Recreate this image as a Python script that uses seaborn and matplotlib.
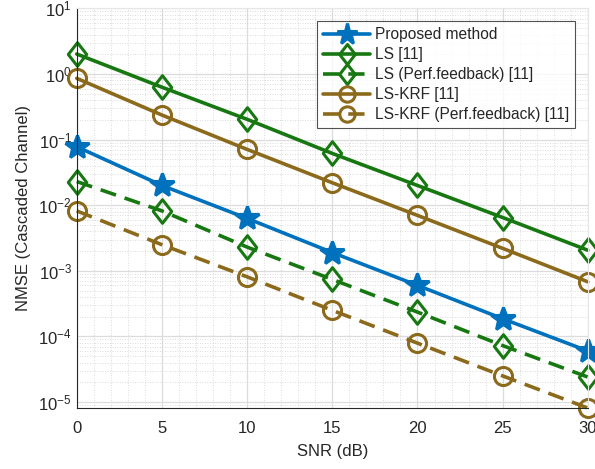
import numpy as np
import pandas as pd
import matplotlib
matplotlib.use("Agg")
import matplotlib.pyplot as plt
import seaborn as sns
from matplotlib.path import Path
from matplotlib.ticker import LogLocator, MultipleLocator, NullFormatter

# -------------------------------
# Data
# -------------------------------
snr = [0, 5, 10, 15, 20, 25, 30]
proposed = [0.078, 0.020, 0.0063, 0.0019, 0.0006, 0.000186, 0.00006]
ls = [2.02, 0.63, 0.204, 0.0616, 0.020, 0.0065, 0.00206]
ls_perf = [0.023, 0.0082, 0.0023, 0.00074, 0.000235, 0.0000725, 0.000024]
ls_krf = [0.86, 0.237, 0.071, 0.022, 0.0070, 0.0022, 0.00068]
ls_krf_perf = [0.0082, 0.0025, 0.00081, 0.00025, 0.000079, 0.000025, 0.0000081]

labels = ["Proposed method", "LS [11]", "LS (Perf.feedback) [11]",
          "LS-KRF [11]", "LS-KRF (Perf.feedback) [11]"]

blue = "#0072BD"
green = "#177812"
brown = "#8C6A1C"

# MATLAB-like diamond (a bit taller than wide)
diamond = Path([(0, 1), (0.78, 0), (0, -1), (-0.78, 0), (0, 1)],
               [Path.MOVETO, Path.LINETO, Path.LINETO, Path.LINETO, Path.CLOSEPOLY])

dash = (0, (4.5, 2.5))
styles = [
    dict(color=blue, marker="*", ms=18, ls="-", mfc=blue),
    dict(color=green, marker=diamond, ms=17, ls="-", mfc="none"),
    dict(color=green, marker=diamond, ms=17, ls=dash, mfc="none"),
    dict(color=brown, marker="o", ms=13, ls="-", mfc="none"),
    dict(color=brown, marker="o", ms=13, ls=dash, mfc="none"),
]

# -------------------------------
# Figure
# -------------------------------
sns.set_style("white")
plt.rcParams["font.family"] = ["Liberation Sans", "DejaVu Sans"]

fig = plt.figure(figsize=(5.95, 4.69), dpi=100)
ax = fig.add_axes([0.129, 0.130, 0.859, 0.852])

for lab, vals, st in zip(labels, [proposed, ls, ls_perf, ls_krf, ls_krf_perf], styles):
    df = pd.DataFrame({"snr": snr, "nmse": vals})
    sns.lineplot(data=df, x="snr", y="nmse", ax=ax, label=lab,
                 color=st["color"], linestyle=st["ls"], linewidth=2.6,
                 marker=st["marker"], markersize=st["ms"],
                 markerfacecolor=st["mfc"], markeredgecolor=st["color"],
                 markeredgewidth=2.2, clip_on=False)

ax.set_yscale("log")
ax.set_xlim(0, 30)
ax.set_ylim(8.1e-6, 10)

ax.xaxis.set_major_locator(MultipleLocator(5))
ax.xaxis.set_minor_locator(MultipleLocator(1))
ax.yaxis.set_major_locator(LogLocator(base=10, numticks=20))
ax.yaxis.set_minor_locator(LogLocator(base=10, subs=np.arange(2, 10), numticks=20))
ax.yaxis.set_minor_formatter(NullFormatter())

ax.grid(True, which="major", color="#dcdcdc", linewidth=0.9, linestyle="-")
ax.grid(True, which="minor", color="#d0d0d0", linewidth=0.6, linestyle=(0, (1, 2)))
ax.set_axisbelow(True)

ax.tick_params(which="both", direction="in", top=False, right=False,
               labelsize=12, colors="#262626")
ax.tick_params(which="major", length=5)
ax.tick_params(which="minor", length=2.5)
ax.tick_params(axis="x", which="major", pad=9)
for s in ["top", "right"]:
    ax.spines[s].set_color("#e6e6e6")
for s in ["left", "bottom"]:
    ax.spines[s].set_color("#262626")
    ax.spines[s].set_linewidth(0.8)

ax.set_xlabel("SNR (dB)", fontsize=12, color="#262626", labelpad=6)
ax.set_ylabel("NMSE (Cascaded Channel)", fontsize=12, color="#262626", labelpad=5)

leg = ax.legend(loc="upper right", bbox_to_anchor=(0.975, 0.969), fontsize=11.2,
                frameon=True, fancybox=False, edgecolor="#262626",
                handlelength=3.0, handletextpad=0.3, borderpad=0.4,
                labelspacing=0.32, borderaxespad=0, markerscale=0.85)
leg.get_frame().set_linewidth(0.8)

fig.savefig("out.png", dpi=100)
